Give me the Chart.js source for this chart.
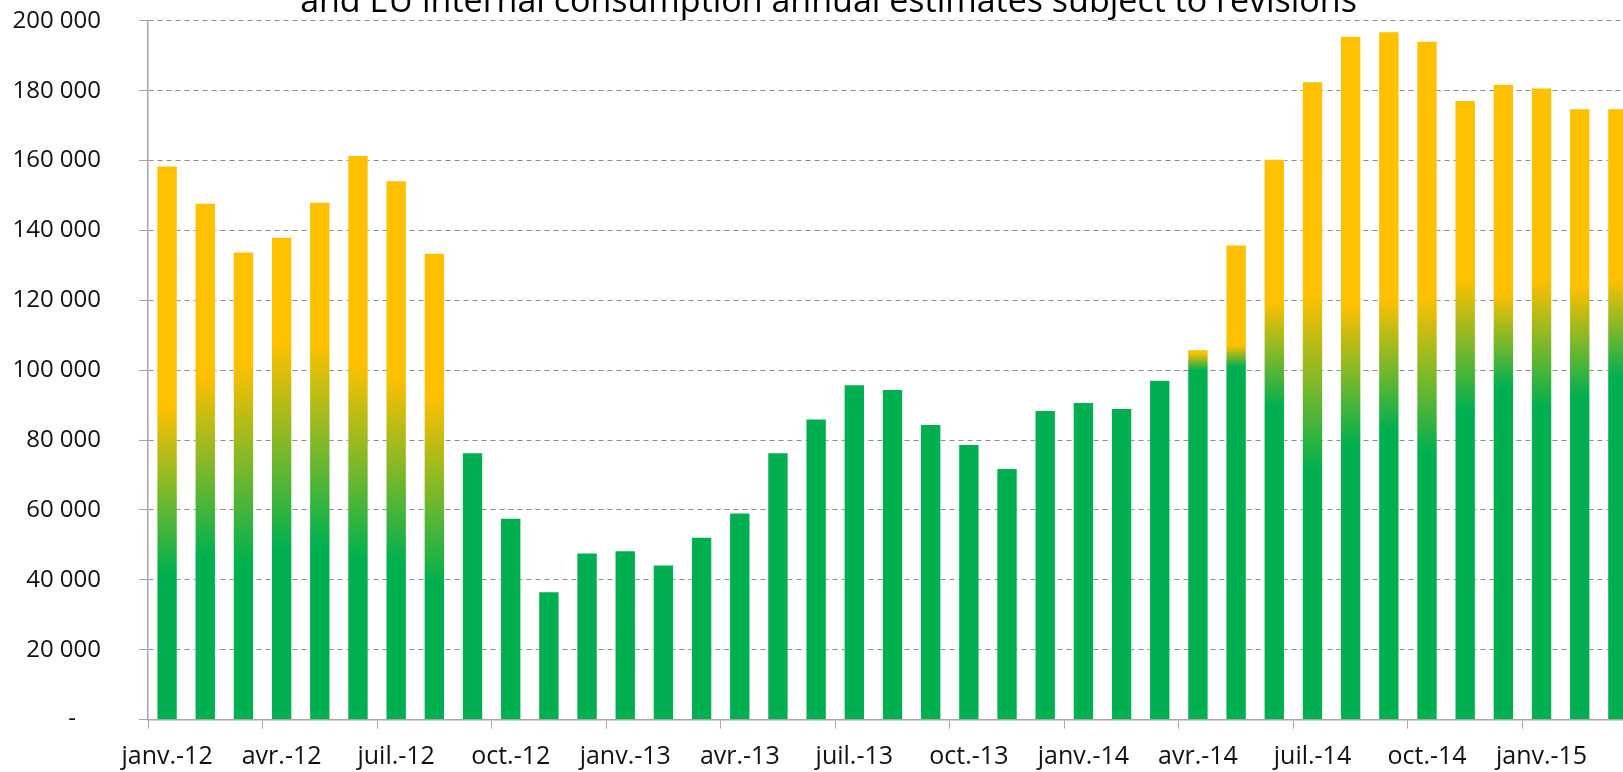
<!DOCTYPE html>
<html>
<head>
<meta charset="utf-8">
<script src="https://cdn.jsdelivr.net/npm/chart.js@4"></script>
<style>
  html, body { margin: 0; padding: 0; overflow: hidden; background: #fff; }
  #wrap { position: absolute; left: 0; top: -40px; width: 1665px; height: 812px; }
</style>
</head>
<body>
<div id="wrap"><canvas id="myChart"></canvas></div>
<script>
// mois (categories)
const months = [
  'janv.-12', 'févr.-12', 'mars-12', 'avr.-12', 'mai-12', 'juin-12', 'juil.-12', 'août-12', 'sept.-12', 'oct.-12', 'nov.-12', 'déc.-12',
  'janv.-13', 'févr.-13', 'mars-13', 'avr.-13', 'mai-13', 'juin-13', 'juil.-13', 'août-13', 'sept.-13', 'oct.-13', 'nov.-13', 'déc.-13',
  'janv.-14', 'févr.-14', 'mars-14', 'avr.-14', 'mai-14', 'juin-14', 'juil.-14', 'août-14', 'sept.-14', 'oct.-14', 'nov.-14', 'déc.-14',
  'janv.-15', 'févr.-15', 'mars-15'
];

// hauteur des barres
const values = [
  158600, 147900, 134000, 138200, 148200, 161600, 154400, 133600, 76500, 57800, 36700, 47800,
  48500, 44400, 52300, 59300, 76500, 86200, 96000, 94600, 84600, 78900, 72000, 88600,
  90900, 89200, 97300, 106000, 136000, 160500, 182700, 195700, 197000, 194300, 177300, 182000,
  180900, 175000, 175000
];

// where the pure green stops and the pure yellow starts (null = all green)
const greenTop = [
  42000, 46700, 44800, 48600, 49500, 45700, 44800, 39000, null, null, null, null,
  null, null, null, null, null, null, null, null, null, null, null, null,
  null, null, null, 100000, 101000, 89500, 71400, 79000, 82900, 76200, 88600, 95200,
  89500, 92400, 98000
];
const yellowBase = [
  89500, 98000, 102000, 107700, 107700, 102000, 98000, 92400, null, null, null, null,
  null, null, null, null, null, null, null, null, null, null, null, null,
  null, null, null, 105000, 107000, 119500, 121400, 118600, 120500, 121000, 126000, 122000,
  126000, 124000, 126000
];

const yTicks = [0, 20000, 40000, 60000, 80000, 100000, 120000, 140000, 160000, 180000, 200000];

const GREEN = '#00B050';
const YELLOW = '#FFC000';
const FONT = "'Open Sans', sans-serif";

function barColor(ctx) {
  const chart = ctx.chart;
  const i = ctx.dataIndex;
  if (!chart.chartArea || greenTop[i] == null) return GREEN;
  const y = chart.scales.y;
  const g = chart.ctx.createLinearGradient(0, y.getPixelForValue(greenTop[i]), 0, y.getPixelForValue(yellowBase[i]));
  g.addColorStop(0, GREEN);
  g.addColorStop(1, YELLOW);
  return g;
}

function fmt(v) {
  if (v === 0) return '-    ';
  return String(v).replace(/\B(?=(\d{3})+(?!\d))/g, ' ');
}

const data = {
  labels: months,
  datasets: [{
    data: values,
    backgroundColor: barColor,
    borderColor: 'rgba(255,255,255,0.5)',
    borderWidth: 1,
    barPercentage: 0.56,
    categoryPercentage: 1
  }]
};

const config = {
  type: 'bar',
  data: data,
  options: {
    responsive: true,
    maintainAspectRatio: false,
    animation: false,
    layout: { padding: { left: 0, right: 8, top: 0, bottom: 0 } },
    plugins: {
      legend: { display: false },
      tooltip: { enabled: false },
      title: {
        display: true,
        text: 'and EU internal consumption annual estimates subject to revisions',
        color: '#000',
        font: { family: FONT, size: 34, weight: 'normal' },
        padding: { top: 22, bottom: -2 }
      }
    },
    scales: {
      x: {
        afterFit: (s) => { s.height = 51; },
        grid: {
          offset: true,
          drawOnChartArea: false,
          tickLength: 9,
          tickColor: (c) => c.index % 3 === 0 ? '#a6a6a6' : 'rgba(0,0,0,0)'
        },
        border: { color: '#a6a6a6', width: 1.5 },
        ticks: {
          autoSkip: false,
          maxRotation: 0,
          padding: 13,
          color: '#111',
          font: { family: FONT, size: 25 },
          callback: (v, i) => i % 3 === 0 ? months[i] : ''
        }
      },
      y: {
        min: 0,
        max: 200000,
        afterFit: (s) => { s.width = 148; },
        afterBuildTicks: (s) => { s.ticks = yTicks.map(v => ({ value: v })); },
        grid: {
          color: '#8c8c8c',
          tickLength: 9,
          tickColor: '#a6a6a6',
          tickBorderDash: []
        },
        border: { color: '#a6a6a6', width: 1.5, dash: [5, 4] },
        ticks: {
          padding: 38,
          color: '#111',
          font: { family: FONT, size: 24 },
          callback: (v) => fmt(v)
        }
      },
      // empty space on the right (plot continues past the window)
      right: {
        position: 'right',
        afterFit: (s) => { s.width = 20; },
        ticks: { display: false },
        grid: { display: false },
        border: { display: false }
      }
    }
  }
};

const myChart = new Chart(document.getElementById('myChart'), config);
</script>
</body>
</html>
